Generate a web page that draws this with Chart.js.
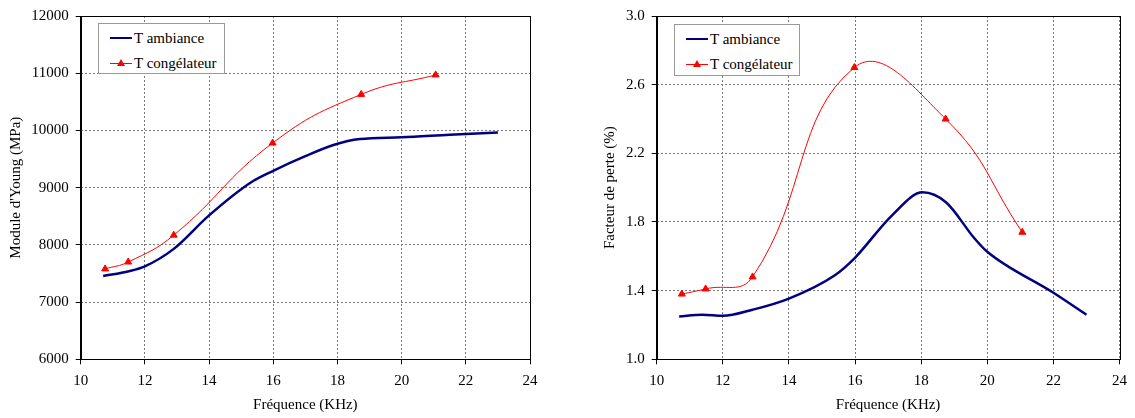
<!DOCTYPE html>
<html>
<head>
<meta charset="utf-8">
<script src="https://cdn.jsdelivr.net/npm/chart.js@4.4.0/dist/chart.umd.min.js"></script>
<style>
html,body{margin:0;padding:0;background:#fff;width:1135px;height:418px;overflow:hidden;font-family:'Liberation Serif','Times New Roman',serif;}
.wrap{position:absolute;top:0;height:418px;}
.legend{position:absolute;background:#fff;border:1px solid #999;box-sizing:border-box;font-size:15px;color:#000;}
.row{position:absolute;left:0;height:18px;line-height:18px;white-space:nowrap;}
.sample{position:absolute;left:11px;width:22px;top:50%;}
.label{position:absolute;left:35px;top:0;}
.blue{height:2.5px;margin-top:-1.25px;background:#000080;}
.red{height:1px;margin-top:-0.5px;background:#ff0000;}
.tri{position:absolute;left:7px;top:-4px;width:0;height:0;border-left:4px solid transparent;border-right:4px solid transparent;border-bottom:7px solid #ff0000;}
</style>
</head>
<body>
<div class="wrap" style="left:0;width:560px;"><canvas id="c1" width="560" height="418"></canvas></div>
<div class="wrap" style="left:565px;width:570px;"><canvas id="c2" width="570" height="418"></canvas></div>

<div class="legend" style="left:98px;top:23px;width:127px;height:51px;">
  <div class="row" style="top:5px;width:125px;"><div class="sample blue"></div><span class="label">T ambiance</span></div>
  <div class="row" style="top:30px;width:125px;"><div class="sample red"><div class="tri"></div></div><span class="label">T congélateur</span></div>
</div>
<div class="legend" style="left:674px;top:24px;width:126px;height:52px;">
  <div class="row" style="top:5px;width:124px;"><div class="sample blue"></div><span class="label">T ambiance</span></div>
  <div class="row" style="top:30px;width:124px;"><div class="sample red"><div class="tri"></div></div><span class="label">T congélateur</span></div>
</div>

<script>
// ---- Data ----
const seriesNames = ['T ambiance', 'T congélateur'];

// Left chart: Young's modulus (MPa)
const freqAmbYoung = [10.7, 11.5, 12.0, 12.9, 14.0, 15.3, 16.0, 17.0, 17.9, 18.7, 20.0, 21.5, 23.0];
const youngAmb     = [7455, 7540, 7625, 7930, 8515, 9090, 9295, 9550, 9750, 9850, 9880, 9925, 9965];
const freqCong     = [10.76, 11.48, 12.9, 15.98, 18.74, 21.06];
const youngCong    = [7580, 7700, 8170, 9780, 10630, 10970];

// Right chart: loss factor (%)
const freqAmbLoss  = [10.68, 11.38, 12.0, 12.9, 14.0, 15.39, 15.99, 17.12, 18.04, 18.75, 19.61, 19.99, 21.99, 23.0];
const lossAmb      = [1.25, 1.26, 1.253, 1.289, 1.354, 1.49, 1.59, 1.839, 1.973, 1.915, 1.705, 1.628, 1.389, 1.26];
const lossCong     = [1.38, 1.41, 1.48, 2.70, 2.40, 1.74];

// Axis ticks
const xTicks = [10, 12, 14, 16, 18, 20, 22, 24];
const youngTicks = [6000, 7000, 8000, 9000, 10000, 11000, 12000];
const lossTicks = [1.0, 1.4, 1.8, 2.2, 2.6, 3.0];

const xTitle = 'Fréquence (KHz)';
const youngTitle = "Module d'Young (MPa)";
const lossTitle = 'Facteur de perte (%)';

// ---- Rendering ----
Chart.defaults.font.family = "'Liberation Serif', 'Times New Roman', serif";
Chart.defaults.font.size = 15;
Chart.defaults.color = '#000';

const pts = (xs, ys) => xs.map((x, i) => ({x, y: ys[i]}));

const framePlugin = {
  id: 'frame',
  beforeDatasetsDraw(chart) {
    const {ctx, chartArea: a} = chart;
    ctx.save();
    ctx.strokeStyle = '#000';
    ctx.lineWidth = 1;
    ctx.strokeRect(Math.round(a.left) + 0.5, Math.round(a.top) + 0.5, Math.round(a.right - a.left), Math.round(a.bottom - a.top));
    ctx.restore();
  }
};

function makeChart(id, ambX, ambY, congY, yTicks, yFmt, yTitle, cfg) {
  const yMin = yTicks[0], yMax = yTicks[yTicks.length - 1];
  const yStep = yTicks[1] - yTicks[0];
  return new Chart(document.getElementById(id), {
    type: 'line',
    data: {
      datasets: [
        {
          label: seriesNames[0],
          data: pts(ambX, ambY),
          borderColor: '#000080',
          borderWidth: 2.5,
          pointRadius: 0,
          cubicInterpolationMode: 'monotone',
          fill: false
        },
        {
          label: seriesNames[1],
          data: pts(freqCong, congY),
          borderColor: '#ff0000',
          backgroundColor: '#ff0000',
          borderWidth: 1,
          tension: 0.45,
          pointStyle: 'triangle',
          pointRadius: 4,
          pointBorderWidth: 1,
          pointBackgroundColor: '#ff0000',
          pointBorderColor: '#ff0000',
          fill: false
        }
      ]
    },
    options: {
      responsive: false,
      animation: false,
      devicePixelRatio: 1,
      layout: {padding: {left: 0, right: cfg.padRight, top: 11.6, bottom: 0}},
      plugins: {legend: {display: false}, tooltip: {enabled: false}},
      scales: {
        x: {
          type: 'linear',
          min: xTicks[0],
          max: xTicks[xTicks.length - 1],
          afterBuildTicks: s => { s.ticks = xTicks.map(v => ({value: v})); },
          afterFit: s => { s.height = 58.7; },
          ticks: {padding: 8, font: {size: 15}, color: '#000', maxRotation: 0, callback: v => String(v)},
          grid: {color: '#7a7a7a', lineWidth: 1, tickLength: 5, tickColor: '#000', tickBorderDash: [], tickWidth: 1},
          border: {display: true, color: '#000', width: 1, dash: [2, 2]},
          title: {display: true, text: xTitle, font: {size: 15}, color: '#000', padding: {top: 0, bottom: 4}}
        },
        y: {
          type: 'linear',
          min: yMin,
          max: yMax,
          afterBuildTicks: s => { s.ticks = yTicks.map(v => ({value: v})); },
          afterFit: s => { s.width = cfg.yWidth; },
          ticks: {padding: 7, font: {size: 15}, color: '#000', stepSize: yStep, callback: yFmt},
          grid: {color: '#7a7a7a', lineWidth: 1, tickLength: 5, tickColor: '#000', tickBorderDash: [], tickWidth: 1},
          border: {display: true, color: '#000', width: 1, dash: [2, 2]},
          title: {display: true, text: yTitle, font: {size: 15}, color: '#000', padding: {top: cfg.yTitlePad, bottom: 0}}
        }
      }
    },
    plugins: [framePlugin]
  });
}

makeChart('c1', freqAmbYoung, youngAmb, youngCong, youngTicks, v => String(v), youngTitle,
  {padRight: 30, yWidth: 80.7, yTitlePad: 7});
makeChart('c2', freqAmbLoss, lossAmb, lossCong, lossTicks, v => Number(v).toFixed(1), lossTitle,
  {padRight: 11.7, yWidth: 91.7, yTitlePad: 35.7});
</script>
</body>
</html>
